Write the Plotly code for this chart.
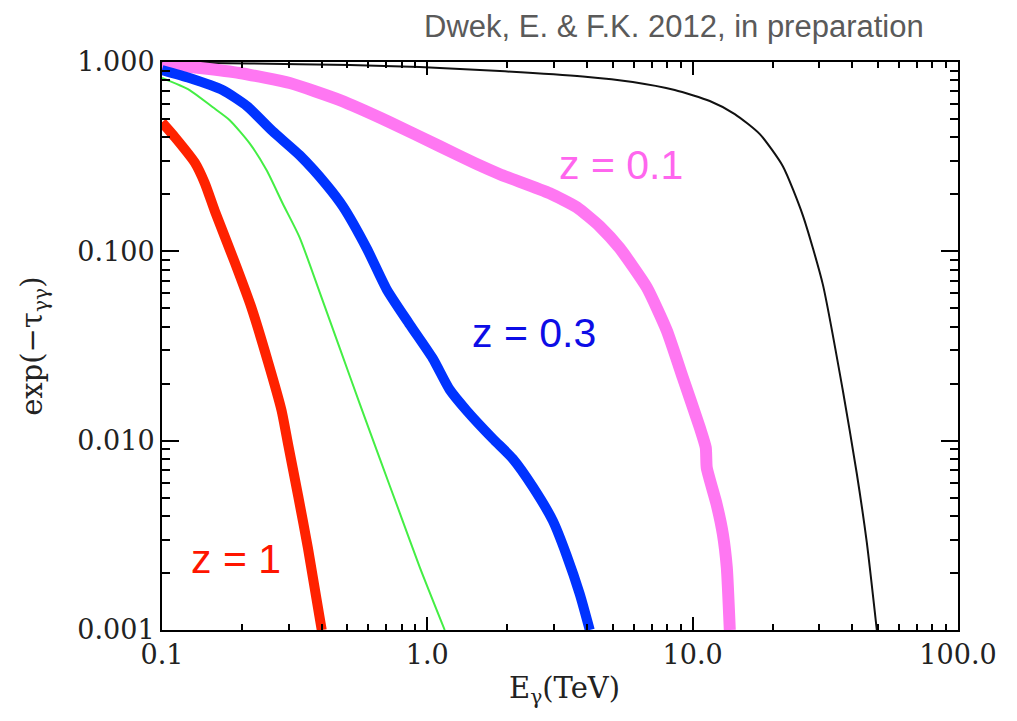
import math
import plotly.graph_objects as go

# ---- data ----
red_E = [0.1, 0.112, 0.133, 0.145, 0.158, 0.188, 0.217, 0.251, 0.282, 0.299, 0.326, 0.355, 0.40]
red_T = [0.48, 0.40, 0.294, 0.229, 0.164, 0.0875, 0.0507, 0.026, 0.0145, 0.0095, 0.0051, 0.0027, 0.0010]

green_E = [0.1, 0.127, 0.155, 0.180, 0.214, 0.248, 0.285, 0.330, 0.393, 0.468, 0.556, 0.662, 0.787, 0.936, 1.163]
green_T = [0.823, 0.711, 0.578, 0.493, 0.372, 0.268, 0.179, 0.1186, 0.0607, 0.0307, 0.0157, 0.00803, 0.00416, 0.00215, 0.0010]

blue_E = [0.1, 0.127, 0.169, 0.209, 0.261, 0.330, 0.418, 0.480, 0.591, 0.703, 0.858, 1.048, 1.214,
          1.408, 1.764, 2.099, 2.496, 2.970, 3.353, 3.753, 4.094]
blue_T = [0.907, 0.823, 0.711, 0.585, 0.431, 0.322, 0.2235, 0.173, 0.1037, 0.0629, 0.0411, 0.0272, 0.0186,
          0.0144, 0.01025, 0.00803, 0.00571, 0.00378, 0.00247, 0.00155, 0.0010]

mag_E = [0.1, 0.139, 0.196, 0.303, 0.468, 0.722, 1.114, 1.509, 1.875, 2.893, 3.658, 4.466, 5.313,
         6.716, 7.987, 9.181, 10.64, 11.205, 11.30, 12.30, 12.99, 13.45, 13.80]
mag_T = [0.976, 0.930, 0.875, 0.774, 0.629, 0.481, 0.359, 0.292, 0.2555, 0.2027, 0.171, 0.1356, 0.1037,
         0.0645, 0.0382, 0.02154, 0.01172, 0.00918, 0.00719, 0.00464, 0.00322, 0.00213, 0.0010]

blk_E = [0.1, 0.214, 0.510, 0.936, 1.875, 3.854, 5.946, 8.559, 11.60, 14.41, 17.91, 21.87, 26.01,
         30.94, 36.81, 41.56, 45.33, 49.43]
blk_T = [0.994, 0.982, 0.964, 0.941, 0.896, 0.838, 0.784, 0.711, 0.622, 0.531, 0.416, 0.2816, 0.155,
         0.0669, 0.0184, 0.00669, 0.00289, 0.0010]

x_ticks = [0.1, 1.0, 10.0, 100.0]
x_tick_labels = ["0.1", "1.0", "10.0", "100.0"]
y_ticks = [0.001, 0.01, 0.1, 1.0]
y_tick_labels = ["0.001", "0.010", "0.100", "1.000"]

labels = [("z = 0.1", 5.35, 0.285, "#ff66ee"),
          ("z = 0.3", 2.52, 0.0372, "#0d0de6"),
          ("z = 1", 0.1897, 0.00238, "#ff1500")]

# ---- figure ----
fig = go.Figure()
fig.add_trace(go.Scatter(x=blk_E, y=blk_T, mode="lines", line=dict(color="#111111", width=2, shape="spline", smoothing=0.6)))
fig.add_trace(go.Scatter(x=green_E, y=green_T, mode="lines", line=dict(color="#44ee44", width=2, shape="spline", smoothing=0.6)))
fig.add_trace(go.Scatter(x=mag_E, y=mag_T, mode="lines", line=dict(color="#ff77f2", width=12, shape="spline", smoothing=0.5)))
fig.add_trace(go.Scatter(x=blue_E, y=blue_T, mode="lines", line=dict(color="#0033ff", width=10, shape="spline", smoothing=0.6)))
fig.add_trace(go.Scatter(x=red_E, y=red_T, mode="lines", line=dict(color="#ff2200", width=10, shape="spline", smoothing=0.6)))

minor_x = [m * 10 ** d for d in (-1, 0, 1) for m in range(2, 10)]
minor_y = [m * 10 ** d for d in (-3, -2, -1) for m in range(2, 10)]

SERIF = "DejaVu Serif"
axis_common = dict(showgrid=False, zeroline=False, showline=True, linecolor="black", linewidth=2,
                   mirror="allticks", ticks="inside", tickcolor="black", tickwidth=2,
                   tickfont=dict(family=SERIF, size=27, color="#222222"))

fig.update_xaxes(type="log", range=[-1, 2], tickmode="array", tickvals=x_ticks, ticktext=x_tick_labels,
                 ticklen=13, minor=dict(tickmode="array", tickvals=minor_x, ticks="inside", ticklen=6,
                                        tickcolor="black", tickwidth=2, showgrid=False),
                 **axis_common)
fig.update_yaxes(type="log", range=[-3, 0], tickmode="array", tickvals=y_ticks, ticktext=y_tick_labels,
                 ticklen=17, minor=dict(tickmode="array", tickvals=minor_y, ticks="inside", ticklen=8,
                                        tickcolor="black", tickwidth=2, showgrid=False),
                 **axis_common)

for text, xv, yv, col in labels:
    fig.add_annotation(x=math.log10(xv), y=math.log10(yv), xref="x", yref="y", text=text, showarrow=False,
                       font=dict(family="Arial", size=41, color=col), xanchor="center", yanchor="middle")

fig.add_annotation(x=0.506, y=-0.106, xref="paper", yref="paper", text="E<sub>γ</sub>(TeV)", showarrow=False,
                   font=dict(family=SERIF, size=29, color="#222222"), xanchor="center", yanchor="middle")
fig.add_annotation(x=-0.161, y=0.5, xref="paper", yref="paper", text="exp(−τ<sub>γγ</sub>)", showarrow=False,
                   textangle=-90, font=dict(family=SERIF, size=29, color="#222222"),
                   xanchor="center", yanchor="middle")
fig.add_annotation(x=0.96, y=1.062, xref="paper", yref="paper", text="Dwek, E. &amp; F.K. 2012, in preparation",
                   showarrow=False, font=dict(family="Arial", size=31, color="#5a5a5a"),
                   xanchor="right", yanchor="middle")

fig.update_layout(width=1017, height=721, margin=dict(l=162, r=59, t=62, b=91),
                  paper_bgcolor="white", plot_bgcolor="white", showlegend=False)

fig.write_html("out.html")
